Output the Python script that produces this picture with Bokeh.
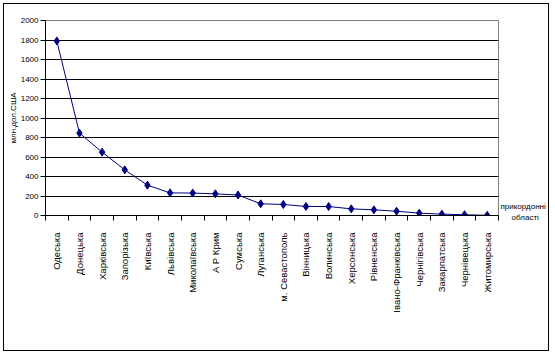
from bokeh.plotting import figure
from bokeh.models import Range1d, FixedTicker, LinearAxis
from bokeh.embed import file_html
from bokeh.resources import INLINE
import math

regions = ["Одеська", "Донецька", "Харківська", "Запорізька", "Київська", "Львівська",
           "Миколаївська", "А Р Крим", "Сумська", "Луганська", "м. Севастополь", "Вінницька",
           "Волинська", "Херсонська", "Рівненська", "Івано-Франківська", "Чернігівська",
           "Закарпатська", "Чернівецька", "Житомирська"]
values = [1790, 845, 650, 468, 311, 232, 230, 222, 210, 120, 113, 93,
          92, 68, 58, 44, 24, 14, 8, 2]
y_ticks = [0, 200, 400, 600, 800, 1000, 1200, 1400, 1600, 1800, 2000]
y_title = "млн.дол.США"
x_title = ["прикордонні", "області"]

FONT = "Liberation Sans"
FS = "8px"
n = len(regions)
xs = [i + 0.5 for i in range(n)]

p = figure(width=546, height=348, output_backend="svg", toolbar_location=None,
           x_range=Range1d(0, n), y_range=Range1d(0, 2000),
           min_border_left=41, min_border_top=16, min_border_right=52, min_border_bottom=137)
p.styles = {"border": "1px solid black", "margin": "3px 0 0 3px"}
p.background_fill_color = "white"
p.border_fill_color = "white"
p.outline_line_color = "#808080"
p.outline_line_width = 1

# x axis
p.xaxis.ticker = FixedTicker(ticks=xs, minor_ticks=list(range(n + 1)))
p.xaxis.major_label_overrides = {x: r for x, r in zip(xs, regions)}
p.xaxis.major_label_orientation = math.pi / 2
p.xaxis.major_tick_out = 0
p.xaxis.major_tick_in = 0
p.xaxis.minor_tick_out = 5
p.xaxis.minor_tick_in = 0
p.xaxis.minor_tick_line_color = "black"
p.xaxis.axis_line_color = "black"
p.xaxis.major_label_text_font = FONT
p.xaxis.major_label_text_font_size = "9.5px"
p.xaxis.major_label_text_color = "black"
p.xaxis.major_label_standoff = 12

# y axis
p.yaxis.ticker = FixedTicker(ticks=y_ticks)
p.yaxis.major_tick_out = 5
p.yaxis.major_tick_in = 0
p.yaxis.minor_tick_out = 0
p.yaxis.minor_tick_in = 0
p.yaxis.axis_line_color = "black"
p.yaxis.major_label_text_font = FONT
p.yaxis.major_label_text_font_size = FS
p.yaxis.major_label_text_color = "black"
p.yaxis.major_label_standoff = 2
p.yaxis.axis_label = y_title
p.yaxis.axis_label_text_font = FONT
p.yaxis.axis_label_text_font_size = FS
p.yaxis.axis_label_text_font_style = "normal"
p.yaxis.axis_label_text_color = "black"
p.yaxis.axis_label_standoff = 0

# right-side category-axis title (second line indented to look centred)
right_text = x_title[0] + "\n" + "\u00a0" * 5 + x_title[1]
ra = LinearAxis(ticker=FixedTicker(ticks=[36]), major_label_overrides={36: right_text},
                axis_line_color=None, major_tick_line_color=None, minor_tick_line_color=None,
                major_tick_out=0, major_tick_in=0, minor_tick_out=0, minor_tick_in=0,
                major_label_standoff=2,
                major_label_text_font=FONT,
                major_label_text_font_size=FS, major_label_text_color="black")
p.add_layout(ra, "right")

p.xgrid.visible = False
p.ygrid.ticker = FixedTicker(ticks=y_ticks[1:-1])
p.ygrid.grid_line_color = "black"
p.ygrid.grid_line_width = 1

p.line(xs, values, line_color="#000080", line_width=1)
p.scatter(xs, values, marker="diamond", size=8, fill_color="#000080", line_color="#000080")

open("out.html", "w").write(file_html(p, INLINE))
